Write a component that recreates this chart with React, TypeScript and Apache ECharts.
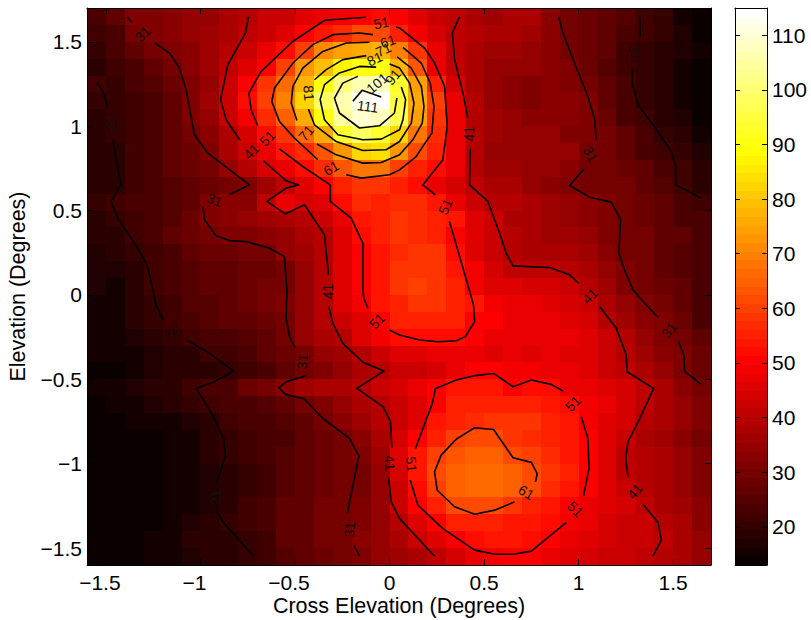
import React, { useEffect, useRef } from "react";
import * as echarts from "echarts";

const FONT = '"Liberation Sans", Arial, sans-serif';
const xCenters = [-1.55,-1.45,-1.35,-1.25,-1.15,-1.05,-0.95,-0.85,-0.75,-0.65,-0.55,-0.45,-0.35,-0.25,-0.15,-0.05,0.05,0.15,0.25,0.35,0.45,0.55,0.65,0.75,0.85,0.95,1.05,1.15,1.25,1.35,1.45,1.55,1.65];
const yCenters = [1.65,1.55,1.45,1.35,1.25,1.15,1.05,0.95,0.85,0.75,0.65,0.55,0.45,0.35,0.25,0.15,0.05,-0.05,-0.15,-0.25,-0.35,-0.45,-0.55,-0.65,-0.75,-0.85,-0.95,-1.05,-1.15,-1.25,-1.35,-1.45,-1.55];
const axisTicks = [-1.5,-1,-0.5,0,0.5,1,1.5];
const colorbarTicks = [20,30,40,50,60,70,80,90,100,110];
const cMin = 13;
const cMax = 115;

const intensity: number[][] = [
[23,27,31,32,33,34,35,37,40,42,43,45,47,49,51,52,50,46,43,41,38,36,38,37,33,30,28,27,25,21,20,16,14],
[21,24,29,32,33,34,36,38,41,43,46,51,53,57,61,62,56,49,44,41,39,37,38,36,33,30,28,26,24,21,20,17,14],
[20,23,26,30,32,33,36,39,43,47,52,60,71,74,76,78,70,58,47,41,38,36,36,35,33,30,28,26,22,20,19,17,15],
[19,21,24,27,30,33,36,41,45,51,60,72,79,87,91,90,78,63,47,41,37,35,34,34,33,31,28,25,22,20,18,16,14],
[21,20,23,25,28,32,35,42,50,58,67,77,90,101,106,108,93,74,56,44,37,35,33,32,33,31,30,26,23,20,18,16,14],
[20,20,22,24,27,32,36,43,52,60,70,83,98,107,113,115,95,76,60,47,39,35,33,32,33,33,31,27,23,20,18,16,13],
[19,20,22,24,27,31,35,42,49,57,65,76,90,104,110,108,96,75,58,47,40,36,34,33,33,33,31,28,24,21,19,17,14],
[19,20,22,24,26,29,33,37,44,52,58,66,76,93,98,94,82,68,57,47,40,36,35,34,35,32,31,29,26,23,20,18,15],
[18,19,22,24,26,28,32,37,43,47,53,57,63,73,83,84,72,62,56,48,40,35,35,34,34,34,30,29,27,24,22,20,17],
[18,19,22,24,26,28,30,35,39,44,47,52,57,63,68,68,60,56,52,47,40,36,36,35,35,33,30,29,28,26,24,21,19],
[18,19,21,23,25,26,28,29,31,36,41,45,51,56,58,58,55,52,47,44,41,37,37,35,33,31,30,30,29,27,25,21,19],
[20,21,23,24,25,27,31,33,33,41,48,44,46,52,57,56,57,57,54,47,43,40,39,37,36,34,33,31,30,28,26,24,21],
[19,20,22,24,25,28,31,33,34,36,38,39,43,48,53,55,58,57,56,53,46,42,38,37,36,35,33,31,29,28,27,24,23],
[19,19,21,24,26,28,30,31,31,33,35,37,40,46,52,56,58,57,55,50,46,43,40,37,36,36,34,32,30,29,27,26,24],
[17,18,20,22,24,26,28,28,29,30,34,36,40,45,50,54,57,59,58,52,46,43,40,38,38,38,36,33,30,29,27,25,23],
[17,17,19,21,24,25,26,27,28,28,30,35,39,45,50,54,58,59,59,54,49,44,41,41,41,40,38,34,31,29,27,25,23],
[17,16,18,21,24,25,26,27,28,29,30,34,39,45,50,54,58,60,59,56,49,46,45,44,44,42,40,36,32,29,28,26,24],
[16,16,18,20,22,25,25,26,28,29,31,35,40,45,49,53,56,58,58,56,53,49,48,47,46,44,42,38,34,31,29,26,23],
[16,16,18,20,21,23,25,26,27,28,30,35,40,43,46,50,55,56,56,55,51,50,48,48,48,46,44,40,36,33,31,28,24],
[15,16,17,18,20,21,23,24,25,27,30,34,37,40,45,49,52,52,52,52,50,48,47,47,47,47,45,42,39,35,32,30,26],
[15,15,16,17,18,19,21,22,24,26,28,30,34,36,39,43,46,46,47,48,47,46,47,46,47,46,46,42,40,36,33,31,28],
[13,14,15,17,18,18,19,20,21,24,27,29,32,35,38,40,43,43,44,48,50,51,49,49,48,48,46,43,41,37,34,31,28],
[15,16,17,18,19,21,23,24,28,30,33,36,38,38,40,42,44,47,51,53,54,54,51,52,52,48,47,46,44,41,37,33,30],
[14,15,16,17,18,20,22,23,24,25,27,29,32,34,37,40,43,46,51,55,56,56,55,55,54,52,49,47,44,41,38,35,32],
[13,14,15,15,16,17,19,22,23,24,25,27,30,33,36,39,42,46,53,56,57,58,58,58,56,53,49,46,44,40,37,35,31],
[13,13,14,14,15,16,18,20,22,23,24,26,28,30,33,37,44,50,55,60,62,62,58,57,55,53,51,46,42,38,36,33,30],
[13,13,13,14,15,16,18,20,22,23,25,27,28,30,31,36,45,53,60,63,65,64,61,60,57,54,51,46,41,39,37,34,31],
[13,13,13,14,15,15,17,19,20,22,25,27,28,29,30,35,44,53,61,64,67,66,64,62,58,55,51,46,41,39,37,35,32],
[13,13,13,14,15,16,17,18,20,22,25,27,28,29,29,34,43,52,60,64,66,66,64,61,57,54,50,46,43,39,37,35,32],
[13,13,13,14,15,16,17,18,21,23,26,27,29,30,31,34,42,50,56,61,62,61,59,56,54,51,48,46,44,41,38,36,33],
[13,13,13,14,16,17,18,20,21,23,26,27,29,30,32,35,39,45,50,55,56,56,54,53,52,49,47,44,43,42,40,37,33],
[13,13,14,15,16,18,18,19,20,22,26,27,29,30,33,35,38,42,46,49,52,53,53,52,50,48,46,44,43,42,41,38,35],
[13,13,13,15,15,17,18,19,20,22,25,27,28,30,31,34,36,38,41,44,47,49,50,50,48,46,44,43,43,41,40,37,35],
];

const contour21a = [[-1.548,1.261],[-1.517,1.206],[-1.49,1.113]];
const contour21b = [[-1.464,0.923],[-1.42,0.652],[-1.473,0.554],[-1.437,0.455],[-1.332,0.277],[-1.279,0.168],[-1.252,0.03],[-1.235,-0.059],[-1.199,-0.148]];
const contour21c = [[-1.071,-0.267],[-0.952,-0.346],[-0.824,-0.451],[-0.935,-0.518],[-1.023,-0.554],[-0.935,-0.712],[-0.877,-0.854],[-0.868,-0.953],[-0.912,-1.107]];
const contour21d = [[-0.908,-1.289],[-0.882,-1.344],[-0.718,-1.548]];
const contour21e = [[1.323,1.647],[1.326,1.532]];
const contour21f = [[1.284,1.344],[1.284,1.246],[1.314,1.127],[1.393,1.008],[1.49,0.85],[1.513,0.761],[1.513,0.652],[1.649,0.573]];
const contour31a = [[-1.388,1.647],[-1.363,1.615]];
const contour31b = [[-1.242,1.493],[-1.164,1.433],[-1.111,1.344],[-1.076,1.216],[-1.032,0.949],[-0.961,0.84],[-0.741,0.652],[-0.843,0.597]];
const contour31c = [[-0.986,0.524],[-0.979,0.445],[-0.917,0.35],[-0.847,0.322],[-0.758,0.316],[-0.635,0.277],[-0.556,0.227],[-0.543,0.03],[-0.547,-0.138],[-0.529,-0.247],[-0.501,-0.31]];
const contour31d = [[-0.441,-0.478],[-0.547,-0.514],[-0.586,-0.55],[-0.55,-0.589],[-0.45,-0.617],[-0.353,-0.732],[-0.212,-0.85],[-0.162,-0.955],[-0.224,-1.295]];
const contour31e = [[-0.189,-1.483],[-0.159,-1.548]];
const contour31f = [[0.894,1.647],[0.917,1.552],[0.988,1.344],[1.049,1.176],[1.085,1.038],[1.093,0.919]];
const contour31g = [[1.028,0.747],[0.952,0.648],[1.058,0.579],[1.173,0.55],[1.222,0.445],[1.213,0.247],[1.243,0.148],[1.287,0.03],[1.349,-0.049],[1.42,-0.132]];
const contour31h = [[1.529,-0.277],[1.556,-0.356],[1.561,-0.455],[1.646,-0.528]];
const contour41a = [[-0.746,1.647],[-0.762,1.552],[-0.855,1.364],[-0.894,1.157],[-0.864,1.038],[-0.79,0.915]];
const contour41b = [[-0.667,0.795],[-0.547,0.676],[-0.481,0.652],[-0.547,0.633],[-0.649,0.554],[-0.552,0.48],[-0.45,0.534],[-0.344,0.356],[-0.323,0.119]];
const contour41c = [[-0.321,-0.069],[-0.3,-0.168],[-0.247,-0.287],[-0.141,-0.399],[-0.03,-0.451],[-0.173,-0.554],[-0.035,-0.662],[0.005,-0.751],[0.012,-0.905]];
const contour41d = [[-0.005,-1.087],[0.009,-1.226],[0.053,-1.325],[0.238,-1.548]];
const contour41e = [[0.37,1.647],[0.332,1.552],[0.344,1.394],[0.388,1.196],[0.414,1.048]];
const contour41f = [[0.427,0.866],[0.423,0.652],[0.52,0.554],[0.582,0.366],[0.617,0.247],[0.653,0.172],[0.847,0.162],[0.952,0.119],[1,0.069]];
const contour41g = [[1.111,-0.069],[1.199,-0.198],[1.252,-0.356],[1.256,-0.455],[1.397,-0.554],[1.323,-0.732],[1.261,-0.87],[1.249,-0.969],[1.261,-1.078]];
const contour41h = [[1.34,-1.24],[1.42,-1.348],[1.437,-1.453],[1.393,-1.548]];
const contour51a = [[-0.127,1.645],[-0.344,1.627],[-0.511,1.503],[-0.679,1.325],[-0.744,1.196],[-0.732,1.097],[-0.697,1.002]];
const contour51b = [[-0.582,0.866],[-0.459,0.761],[-0.314,0.652],[-0.314,0.554],[-0.203,0.455],[-0.141,0.306],[-0.141,0.03],[-0.136,-0.02],[-0.115,-0.079]];
const contour51c = [[0,-0.208],[0.053,-0.237],[0.159,-0.267],[0.256,-0.277],[0.353,-0.271],[0.4,-0.247],[0.45,-0.158],[0.444,-0.059],[0.414,0.059],[0.317,0.435]];
const contour51d = [[0.242,0.593],[0.176,0.652],[0.282,0.801],[0.305,0.998],[0.291,1.236],[0.238,1.374],[0.185,1.463],[0.053,1.582],[0.035,1.588]];
const contour51e = [[0.917,-0.569],[0.855,-0.53],[0.75,-0.504],[0.653,-0.544],[0.55,-0.465],[0.45,-0.478],[0.353,-0.504],[0.243,-0.554],[0.226,-0.643],[0.136,-0.913]];
const contour51f = [[0.109,-1.097],[0.15,-1.246],[0.282,-1.384],[0.45,-1.512],[0.556,-1.536],[0.653,-1.536],[0.75,-1.518],[0.935,-1.348]];
const contour51g = [[1.026,-1.19],[1.055,-1.028],[1.049,-0.85],[1.014,-0.722]];
const contour61a = [[-0.088,1.542],[-0.159,1.552],[-0.3,1.542],[-0.406,1.483],[-0.511,1.374],[-0.608,1.226],[-0.623,1.147],[-0.582,1.028],[-0.503,0.929],[-0.379,0.801]];
const contour61b = [[-0.229,0.712],[-0.15,0.692],[0,0.712],[0.053,0.741],[0.141,0.82],[0.176,0.88],[0.224,0.959],[0.235,1.117],[0.215,1.255],[0.168,1.374],[0.071,1.467]];
const contour61c = [[0.661,-1.226],[0.556,-1.275],[0.45,-1.299],[0.344,-1.255],[0.252,-1.157],[0.238,-1.048],[0.273,-0.949],[0.353,-0.854],[0.45,-0.787],[0.55,-0.797],[0.653,-0.965],[0.75,-0.992],[0.781,-1.058],[0.772,-1.107]];
const contour71a = [[-0.106,1.497],[-0.229,1.493],[-0.353,1.443],[-0.459,1.344],[-0.511,1.236],[-0.52,1.137],[-0.49,1.034]];
const contour71b = [[-0.384,0.894],[-0.282,0.83],[-0.141,0.781],[-0.044,0.785],[0.053,0.83],[0.123,0.919],[0.173,1.018],[0.182,1.117],[0.168,1.236],[0.115,1.344],[0.04,1.41]];
const contour81a = [[-0.123,1.418],[-0.247,1.394],[-0.335,1.335],[-0.397,1.275]];
const contour81b = [[-0.429,1.101],[-0.397,1.008],[-0.282,0.909],[-0.141,0.856],[-0.018,0.86],[0.053,0.909],[0.115,1.018],[0.129,1.137],[0.106,1.255],[0.053,1.344],[0,1.368]];
const contour91a = [[-0.071,1.35],[-0.159,1.354],[-0.265,1.315],[-0.344,1.246],[-0.367,1.157],[-0.344,1.038],[-0.273,0.949],[-0.141,0.919],[-0.044,0.923],[0.053,0.979],[0.071,1.038],[0.085,1.157],[0.062,1.232]];
const contour101a = [[-0.168,1.295],[-0.247,1.255],[-0.291,1.166],[-0.265,1.078],[-0.159,0.989],[-0.053,1.002],[0.026,1.078],[0.039,1.166]];
const contour111a = [[-0.194,1.147],[-0.145,1.212],[-0.044,1.172]];

const contourSegments = [
  contour21a,contour21b,contour21c,contour21d,contour21e,contour21f,
  contour31a,contour31b,contour31c,contour31d,contour31e,contour31f,contour31g,contour31h,
  contour41a,contour41b,contour41c,contour41d,contour41e,contour41f,contour41g,contour41h,
  contour51a,contour51b,contour51c,contour51d,contour51e,contour51f,contour51g,
  contour61a,contour61b,contour61c,contour71a,contour71b,contour81a,contour81b,contour91a,contour101a,contour111a,
];

// x, y, text, rotation in degrees
const contourLabels: [number, number, string, number][] = [
  [-1.478,1.014,"21",90],[-1.138,-0.217,"21",50],[-0.917,-1.2,"21",90],[1.296,1.437,"21",-80],
  [-1.305,1.546,"31",45],[-0.926,0.563,"31",-20],[-0.462,-0.395,"31",85],[-0.212,-1.39,"31",85],[1.062,0.834,"31",-60],[1.478,-0.208,"31",50],
  [-0.732,0.85,"41",45],[-0.326,0.02,"41",90],[0,-0.994,"41",-85],[0.42,0.955,"41",90],[1.058,-0.006,"41",45],[1.296,-1.163,"41",50],
  [-0.647,0.929,"51",45],[-0.067,-0.154,"51",45],[0.295,0.524,"51",65],[-0.044,1.611,"51",12],[0.97,-0.643,"51",45],[0.982,-1.269,"51",-45],[0.115,-1.004,"51",-85],
  [-0.009,1.503,"61",20],[-0.309,0.751,"61",30],[0.723,-1.17,"61",-30],
  [-0.032,1.453,"71",25],[-0.441,0.959,"71",50],
  [-0.079,1.398,"81",25],[-0.427,1.196,"81",-85],
  [0.018,1.291,"91",50],[-0.065,1.255,"101",40],[-0.115,1.117,"111",-8],
];

function hot(level: number) {
  const i = Math.max(0, Math.min(63, level)) + 1;
  const r = Math.min(1, i / 24);
  const g = Math.max(0, Math.min(1, (i - 24) / 24));
  const b = Math.max(0, Math.min(1, (i - 48) / 16));
  return `rgb(${Math.round(r * 255)},${Math.round(g * 255)},${Math.round(b * 255)})`;
}
const levelOf = (v: number) => Math.floor(((v - cMin) / (cMax - cMin)) * 64);
const minusFmt = (v: number) => String(v).replace("-", "\u2212");
const minusFmtHang = (v: number) => (v < 0 ? `{neg|${minusFmt(v)}}` : minusFmt(v));

const lineColor = "#000";
function boxAxis(kind: "x" | "y", index: number, extra: any) {
  return {
    type: "value",
    z: 5,
    gridIndex: index,
    scale: true,
    splitLine: { show: false },
    axisLine: { show: true, onZero: false, lineStyle: { color: lineColor, width: 1 } },
    axisTick: { show: true, inside: true, length: 6, lineStyle: { color: lineColor, width: 1 } },
    axisLabel: { show: false },
    ...extra,
  };
}

export default function App() {
  const ref = useRef<HTMLDivElement>(null);
  useEffect(() => {
    const chart = echarts.init(ref.current!, undefined, { renderer: "svg" });
    const cells: number[][] = [];
    intensity.forEach((row, j) => row.forEach((v, i) => cells.push([xCenters[i], yCenters[j], v])));
    const barCells: number[][] = [];
    for (let k = 0; k < 64; k++) barCells.push([cMin + (k * (cMax - cMin)) / 64, cMin + ((k + 1) * (cMax - cMin)) / 64, k]);
    const label = { show: true, color: "#000", fontFamily: FONT, fontSize: 21, margin: 7 };
    const xExt = { min: -1.6, max: 1.7 };
    const yExt = { min: -1.6, max: 1.7 };
    const nameStyle = { color: "#000", fontFamily: FONT, fontSize: 21.5 };
    chart.setOption({
      animation: false,
      backgroundColor: "#fff",
      grid: [
        { left: 87, top: 8, width: 624, height: 557, outerBoundsMode: "none", containLabel: false },
        { left: 735, top: 8, width: 32, height: 557, outerBoundsMode: "none", containLabel: false },
      ],
      xAxis: [
        boxAxis("x", 0, { ...xExt, position: "bottom",
          axisTick: { show: true, inside: true, length: 6, customValues: axisTicks, lineStyle: { color: lineColor } },
          axisLabel: { ...label, customValues: axisTicks, formatter: minusFmtHang,
            rich: { neg: { color: "#000", fontFamily: FONT, fontSize: 21, padding: [0, 12, 0, 0] } } },
          name: "Cross Elevation (Degrees)", nameLocation: "middle", nameGap: 30, nameMoveOverlap: false, nameTextStyle: nameStyle }),
        boxAxis("x", 0, { ...xExt, position: "top",
          axisTick: { show: true, inside: true, length: 6, customValues: axisTicks, lineStyle: { color: lineColor } } }),
        boxAxis("x", 1, { min: 0, max: 1, position: "bottom", axisTick: { show: false } }),
        boxAxis("x", 1, { min: 0, max: 1, position: "top", axisTick: { show: false } }),
      ],
      yAxis: [
        boxAxis("y", 0, { ...yExt, position: "left",
          axisTick: { show: true, inside: true, length: 6, customValues: axisTicks, lineStyle: { color: lineColor } },
          axisLabel: { ...label, customValues: axisTicks, formatter: minusFmt, margin: 5 },
          name: "Elevation (Degrees)", nameLocation: "middle", nameGap: 58, nameMoveOverlap: false, nameTextStyle: nameStyle }),
        boxAxis("y", 0, { ...yExt, position: "right",
          axisTick: { show: true, inside: true, length: 6, customValues: axisTicks, lineStyle: { color: lineColor } } }),
        boxAxis("y", 1, { min: cMin, max: cMax, position: "left",
          axisTick: { show: true, inside: true, length: 5, customValues: colorbarTicks, lineStyle: { color: lineColor } } }),
        boxAxis("y", 1, { min: cMin, max: cMax, position: "right",
          axisTick: { show: true, inside: true, length: 5, customValues: colorbarTicks, lineStyle: { color: lineColor } },
          axisLabel: { ...label, customValues: colorbarTicks, margin: 5 } }),
      ],
      series: [
        {
          type: "custom",
          xAxisIndex: 0,
          yAxisIndex: 0,
          z: 1,
          silent: true,
          clip: true,
          data: cells,
          renderItem(_p: any, api: any) {
            const x = api.value(0), y = api.value(1), v = api.value(2);
            const a = api.coord([x - 0.05, y + 0.05]);
            const b = api.coord([x + 0.05, y - 0.05]);
            const x0 = Math.round(a[0]), y0 = Math.round(a[1]);
            return {
              type: "rect",
              shape: { x: x0, y: y0, width: Math.round(b[0]) - x0, height: Math.round(b[1]) - y0 },
              style: { fill: hot(levelOf(v)) },
            };
          },
        },
        {
          type: "custom",
          xAxisIndex: 2,
          yAxisIndex: 2,
          z: 1,
          silent: true,
          data: barCells,
          renderItem(_p: any, api: any) {
            const a = api.coord([0, api.value(1)]);
            const b = api.coord([1, api.value(0)]);
            const y0 = Math.round(a[1]);
            return {
              type: "rect",
              shape: { x: a[0], y: y0, width: b[0] - a[0], height: Math.round(b[1]) - y0 },
              style: { fill: hot(api.value(2)) },
            };
          },
        },
        ...contourSegments.map((seg) => ({
          type: "line",
          xAxisIndex: 0,
          yAxisIndex: 0,
          z: 2,
          silent: true,
          showSymbol: false,
          symbol: "none",
          lineStyle: { color: "#000", width: 1.6, join: "round" },
          data: seg,
        })),
        {
          type: "custom",
          xAxisIndex: 0,
          yAxisIndex: 0,
          z: 3,
          silent: true,
          data: contourLabels.map((l) => [l[0], l[1], l[3]]),
          renderItem(_p: any, api: any) {
            const l = contourLabels[_p.dataIndex];
            const c = api.coord([l[0], l[1]]);
            return {
              type: "text",
              x: c[0],
              y: c[1],
              rotation: (l[3] * Math.PI) / 180,
              style: { text: l[2], fill: "#111", font: `14px ${FONT}`, align: "center", verticalAlign: "middle" },
            };
          },
        },
      ],
    });
    return () => chart.dispose();
  }, []);
  return <div ref={ref} style={{ position: "absolute", left: 0, top: 0, width: 811, height: 620 }} />;
}
